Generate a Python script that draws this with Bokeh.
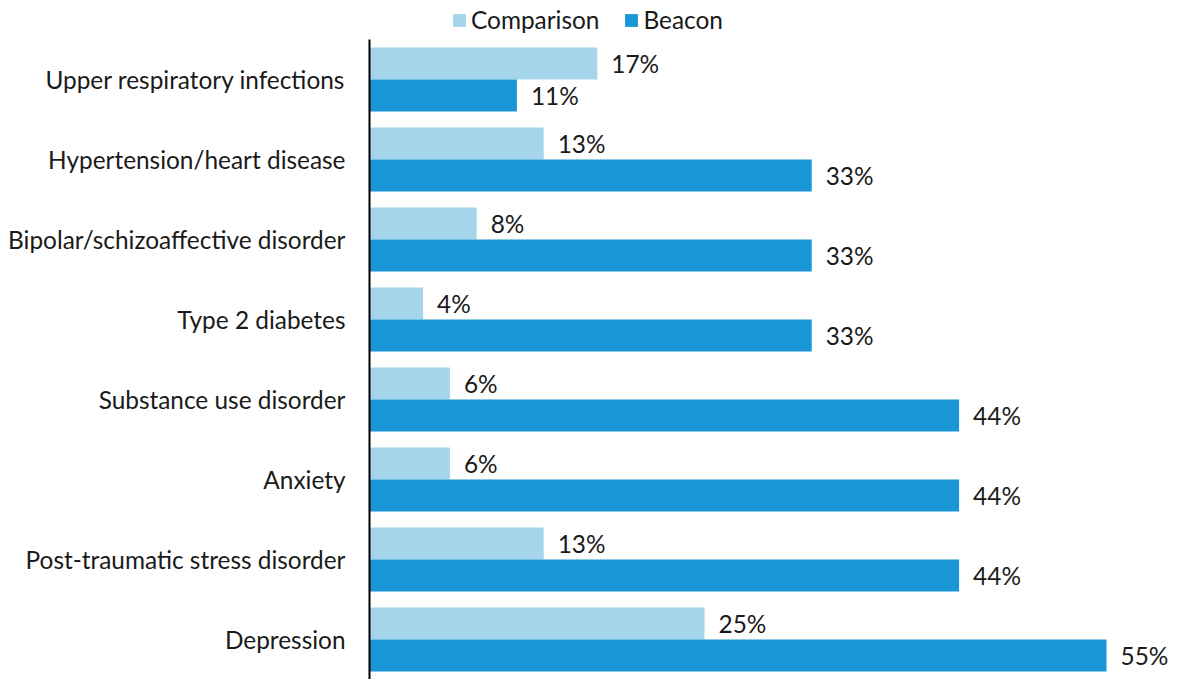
from bokeh.plotting import figure
from bokeh.models import Range1d, FixedTicker, Legend, LegendItem, ColumnDataSource
from bokeh.core.properties import value
from bokeh.embed import file_html
from bokeh.resources import INLINE

categories = [
    "Upper respiratory infections",
    "Hypertension/heart disease",
    "Bipolar/schizoaffective disorder",
    "Type 2 diabetes",
    "Substance use disorder",
    "Anxiety",
    "Post-traumatic stress disorder",
    "Depression",
]
comparison = [17, 13, 8, 4, 6, 6, 13, 25]
beacon = [11, 33, 33, 33, 44, 44, 44, 55]

LIGHT = "#A5D5EB"
DARK = "#1897D4"
TEXT = "#1a1a1a"
FONT = "Lato"
FS = "24.4px"

n = len(categories)
idx = list(range(n))

src = ColumnDataSource(dict(
    cat=categories,
    comp=comparison,
    beac=beacon,
    comp_top=[i + 0.1 for i in idx],
    comp_bot=[i + 0.5 for i in idx],
    beac_top=[i + 0.5 for i in idx],
    beac_bot=[i + 0.9 for i in idx],
    comp_y=[i + 0.3 for i in idx],
    beac_y=[i + 0.7 for i in idx],
    comp_lbl=[f"{v}%" for v in comparison],
    beac_lbl=[f"{v}%" for v in beacon],
))

# 13.4 px per percentage point, 80 px per category row
PX_X = 13.4
PX_Y = 80.0
W, H = 1177, 679
LEFT = 360
x0 = -9 / PX_X
y_top = -39 / PX_Y

p = figure(
    width=W, height=H,
    x_range=Range1d(x0, x0 + (W - LEFT) / PX_X),
    y_range=Range1d(y_top + H / PX_Y, y_top),
    output_backend="svg",
    toolbar_location=None,
    min_border_left=LEFT, min_border_right=0,
    min_border_top=0, min_border_bottom=0,
)
p.outline_line_color = None
p.xgrid.visible = False
p.ygrid.visible = False
p.xaxis.visible = False

r_comp = p.quad(left=0, right="comp", top="comp_top", bottom="comp_bot",
                source=src, fill_color=LIGHT, line_color=None)
r_beac = p.quad(left=0, right="beac", top="beac_top", bottom="beac_bot",
                source=src, fill_color=DARK, line_color=None)

# vertical baseline at zero
p.segment(x0=[0], y0=[0], x1=[0], y1=[n + 0.5], line_color="#000000", line_width=2)

for xcol, ycol, tcol in (("comp", "comp_y", "comp_lbl"), ("beac", "beac_y", "beac_lbl")):
    p.text(x=xcol, y=ycol, text=tcol, source=src, x_offset=14,
           text_align="left", text_baseline="middle",
           text_font=value(FONT), text_font_size=FS, text_color=TEXT)

yax = p.yaxis[0]
yax.ticker = FixedTicker(ticks=[i + 0.5 for i in idx])
yax.major_label_overrides = {i + 0.5: c for i, c in enumerate(categories)}
yax.axis_line_color = None
yax.major_tick_line_color = None
yax.minor_tick_line_color = None
yax.major_tick_out = 0
yax.major_tick_in = 0
yax.major_label_standoff = 15
yax.major_label_text_font = FONT
yax.major_label_text_font_size = FS
yax.major_label_text_color = TEXT

legend = Legend(
    items=[LegendItem(label="Comparison", renderers=[r_comp]),
           LegendItem(label="Beacon", renderers=[r_beac])],
    orientation="horizontal",
    location=(91, 645),
    glyph_width=16, glyph_height=16,
    label_standoff=4, spacing=24,
    padding=0, margin=0,
    border_line_color=None, background_fill_alpha=0,
    label_text_font=FONT, label_text_font_size=FS,
    label_text_color=TEXT, label_text_baseline="middle",
    label_height=24,
)
p.add_layout(legend, "center")

open("out.html", "w").write(file_html(p, INLINE))
